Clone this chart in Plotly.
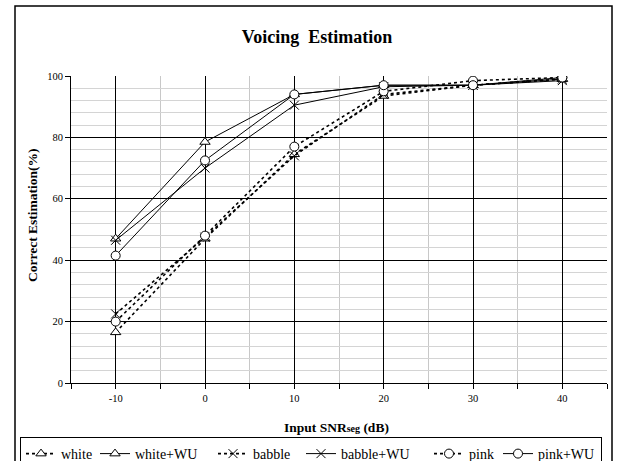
import plotly.graph_objects as go

snr = [-10, 0, 10, 20, 30, 40]
white = [16.5, 47, 74.5, 93.5, 97, 99]
white_wu = [47, 78.5, 94, 97, 97, 99]
babble = [22.5, 47.5, 74, 94, 97, 99]
babble_wu = [46.5, 70, 90.5, 96.5, 97, 98.5]
pink = [20, 48, 77, 95, 98.5, 99.5]
pink_wu = [41.5, 72.5, 94, 97, 97, 99.5]

x_tick_vals = [-10, 0, 10, 20, 30, 40]
x_tick_text = ["-10", "0", "10", "20", "30", "40"]

series = [
    ("white", white, "dot", "triangle-up", 29),
    ("white+WU", white_wu, "solid", "triangle-up", 73),
    ("babble", babble, "dot", "x-thin", 43),
    ("babble+WU", babble_wu, "solid", "x-thin", 83),
    ("pink", pink, "dot", "circle", 24),
    ("pink+WU", pink_wu, "solid", "circle", 58),
]

FONT = "Liberation Serif, Times New Roman, serif"
fig = go.Figure()
for name, vals, dash, sym, lw in series:
    fig.add_trace(go.Scatter(
        x=snr, y=vals, name=name, mode="lines+markers", legendwidth=lw,
        line=dict(color="black", width=1.6 if dash == "dot" else 1, dash=dash),
        marker=dict(symbol=sym, size=9,
                    color="white" if sym != "x-thin" else "black",
                    line=dict(color="black", width=1)),
    ))

W, H = 618, 461
L, R, T, B = 71, 11, 76, 78
pw, ph = W - L - R, H - T - B

def px(x):
    return (x - L) / pw

def py(y):
    return (H - B - y) / ph

fig.update_layout(
    width=W, height=H,
    margin=dict(l=L, r=R, t=T, b=B, autoexpand=False),
    paper_bgcolor="white", plot_bgcolor="white",
    font=dict(family=FONT, color="black", size=10),
    title=dict(text="<b>Voicing  Estimation</b>", x=317 / W, xanchor="center",
               y=1 - 37 / H, yanchor="middle", font=dict(size=18, family=FONT)),
    showlegend=True,
    legend=dict(orientation="h", x=px(20), xanchor="left", y=py(437), yanchor="top",
                bordercolor="black", borderwidth=1, font=dict(size=14, family=FONT),
                bgcolor="white", itemwidth=30, tracegroupgap=0),
    xaxis=dict(range=[-15, 45], tickvals=x_tick_vals, ticktext=x_tick_text,
               showgrid=True, gridcolor="black",
               gridwidth=1, zeroline=False, showline=True, linecolor="black",
               ticks="outside", ticklen=5, tickcolor="black",
               minor=dict(dtick=5, tick0=-15, showgrid=True, gridcolor="#c8c8c8",
                          ticks="outside", ticklen=5, tickcolor="black"),
               tickfont=dict(size=10.5, family=FONT)),
    yaxis=dict(range=[0, 100], tick0=0, dtick=20, showgrid=True, gridcolor="black",
               gridwidth=1, zeroline=False, showline=True, linecolor="black",
               ticks="outside", ticklen=5, tickcolor="black",
               minor=dict(dtick=4, tick0=0, showgrid=True, gridcolor="#d4d4d4"),
               tickfont=dict(size=10.5, family=FONT)),
    shapes=[dict(type="rect", xref="paper", yref="paper",
                 x0=px(15), x1=px(612), y0=py(475), y1=py(6),
                 line=dict(color="black", width=1.5), fillcolor="rgba(0,0,0,0)",
                 layer="below")],
    annotations=[
        dict(text="<b>Correct Estimation(%)</b>", xref="paper", yref="paper",
             x=px(32), y=py(215), textangle=-90, showarrow=False,
             font=dict(size=13.5, family=FONT), xanchor="center", yanchor="middle"),
        dict(text="<b>Input SNR<span style='font-size:10px'>seg</span> (dB)</b>",
             xref="paper", yref="paper", x=px(336), y=py(427), showarrow=False,
             font=dict(size=13.5, family=FONT), xanchor="center", yanchor="middle"),
    ],
)

fig.write_html("out.html", config={"displayModeBar": False},
               post_script="document.body.style.margin='0';")
